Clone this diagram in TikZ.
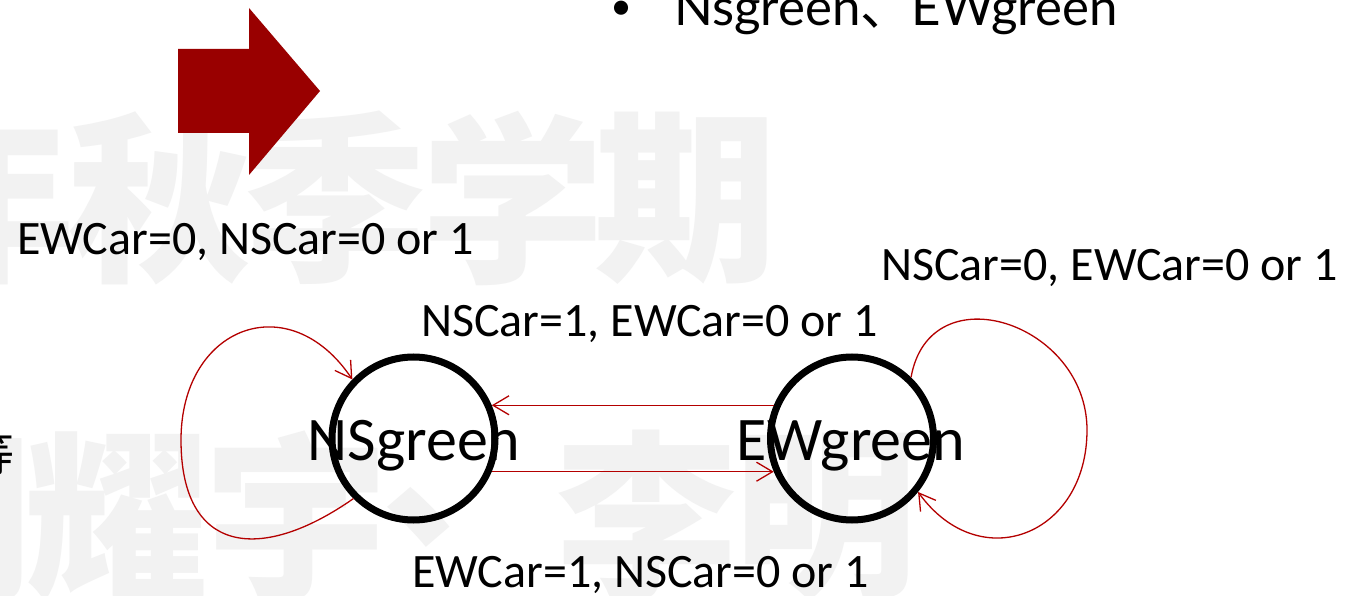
\documentclass[tikz,border=0pt]{standalone}
\usepackage{fontspec}
\setmainfont{Carlito}
\newfontfamily\cjk{Noto Sans CJK SC}
\newfontfamily\bulletfont{Lato}
\usetikzlibrary{arrows.meta}
\definecolor{wmgray}{RGB}{242,242,242}
\definecolor{arrowred}{RGB}{153,0,0}
\definecolor{linered}{RGB}{180,0,0}
\tikzset{
  wm/.style={text=wmgray, font=\cjk\bfseries\fontsize{183}{183}\selectfont, inner sep=0, anchor=center},
  cond/.style={font=\fontsize{48}{48}\selectfont, inner sep=0, anchor=base west},
  stcircle/.style={circle, draw=black, line width=7pt, minimum size=163pt, inner sep=0},
  stname/.style={font=\fontsize{62}{62}\selectfont, inner sep=0, anchor=base},
  trans/.style={draw=linered, line width=1.3pt, -{Straight Barb[length=16pt,width=19pt]}},
}
\begin{document}
\begin{tikzpicture}[x=1pt,y=1pt]
\useasboundingbox (0,0) rectangle (1363,595);
\clip (0,0) rectangle (1363,595);
\fill[white] (0,0) rectangle (1363,595);

% background watermark characters
\node[wm] (w1) at (-16,397) {年};
\node[wm] (w2) at (160,397) {秋};
\node[wm] (w3) at (336,397) {季};
\node[wm] (w4) at (513,397) {学};
\node[wm] (w5) at (686,397) {期};
\node[wm] (w6) at (-59,78) {胡};
\node[wm] (w7) at (117,78) {耀};
\node[wm] (w8) at (297,78) {宇};
\node[wm] (w9) at (473,78) {、};
\node[wm] (w10) at (647,78) {李};
\node[wm] (w11) at (826,78) {明};

% block arrow
\fill[arrowred] (178,546) -- (249,546) -- (249,587) -- (320,504)
  -- (249,420) -- (249,462) -- (178,462) -- cycle;

% bullet line
\node[font=\bulletfont\fontsize{38}{38}\selectfont, inner sep=0, anchor=center] (dot) at (622,585) {•};
\node[font=\bulletfont\fontsize{51}{51}\selectfont, inner sep=0, anchor=base west] (bl) at (674,569) {Nsgreen{\cjk 、}EWgreen};

% clipped character at the left edge
\node[font=\cjk\fontsize{47}{47}\selectfont, inner sep=0] (cut) at (-9,141.5) {等};

% transition conditions
\node[cond] (c1) at (17,340) {EWCar=0, NSCar=0 or 1};
\node[cond] (c2) at (881,314) {NSCar=0, EWCar=0 or 1};
\node[cond] (c3) at (421,258) {NSCar=1, EWCar=0 or 1};
\node[cond] (c4) at (412,8) {EWCar=1, NSCar=0 or 1};

% states
\node[stcircle] (ns) at (413.5,156.5) {};
\node[stcircle] (ew) at (852,156.5) {};
\node[stname] (nst) at (414,135) {NSgreen};
\node[stname] (ewt) at (851,135) {EWgreen};

% transitions
\draw[trans] (ew.157) -- (ns.23);
\draw[trans] (ns.-23) -- (ew.203);
\coordinate (nsl) at (181,155);
\draw[trans] (ns.225) to[out=215,in=-90,looseness=1.6] (nsl)
  to[out=90,in=124,looseness=1.6] (ns.136);
\coordinate (ewr) at (1087,165);
\draw[trans] (ew.46) to[out=80,in=90,looseness=1.5] (ewr)
  to[out=-90,in=-54,looseness=1.5] (ew.-39);
\end{tikzpicture}
\end{document}
